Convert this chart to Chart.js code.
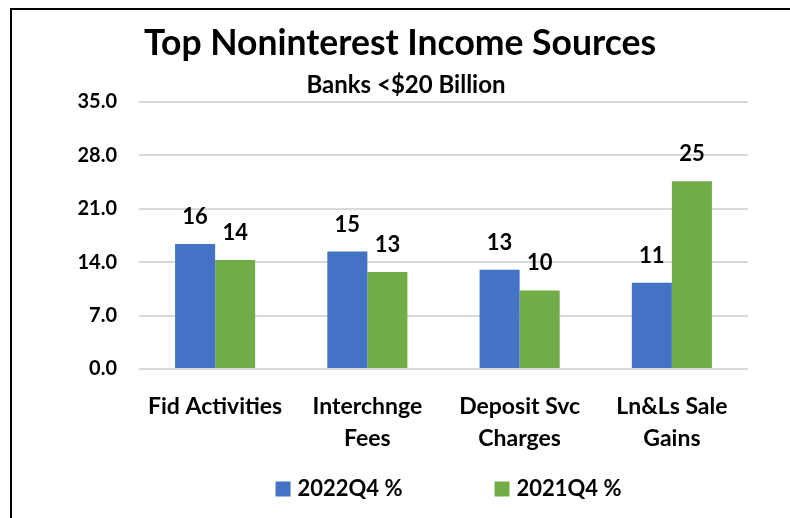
<!DOCTYPE html>
<html>
<head>
<meta charset="utf-8">
<script src="https://cdn.jsdelivr.net/npm/chart.js@4"></script>
<style>
  html, body { margin: 0; padding: 0; background: #fff; overflow: hidden; }
  body { width: 790px; height: 518px; position: relative; }
  #frame { position: absolute; left: 10px; top: 8px; width: 900px; height: 700px; border: 2px solid #000; box-sizing: border-box; }
  #wrap { position: absolute; left: 0; top: 0; width: 790px; height: 518px; }
</style>
</head>
<body>
<div id="frame"></div>
<div id="wrap"><canvas id="income-bar-chart"></canvas></div>
<script>
const categories = ['Fid Activities', ['Interchnge', 'Fees'], ['Deposit Svc', 'Charges'], ['Ln&Ls Sale', 'Gains']];
const q4of2022 = [16.4, 15.4, 13.0, 11.3];
const q4of2021 = [14.3, 12.7, 10.3, 24.6];
const yTicks = [0, 7, 14, 21, 28, 35];

const FONT = 'Lato';
Chart.defaults.font.family = FONT;
Chart.defaults.font.weight = 'bold';
Chart.defaults.color = '#000';

// rounded value above each bar
const barValueLabels = {
    id: 'barValueLabels',
    afterDatasetsDraw(chart) {
        const ctx = chart.ctx;
        ctx.save();
        ctx.font = 'bold 22px ' + FONT;
        ctx.fillStyle = '#000';
        ctx.textAlign = 'center';
        ctx.textBaseline = 'alphabetic';
        chart.data.datasets.forEach((ds, i) => {
            chart.getDatasetMeta(i).data.forEach((bar, j) => {
                ctx.fillText(Math.round(ds.data[j]), bar.x, bar.y - 20);
            });
        });
        ctx.restore();
    }
};

// heading and subheading
const headings = {
    id: 'headings',
    afterDraw(chart) {
        const ctx = chart.ctx;
        ctx.save();
        ctx.fillStyle = '#000';
        ctx.textAlign = 'center';
        ctx.textBaseline = 'alphabetic';
        ctx.font = 'bold 35.5px ' + FONT;
        ctx.fillText('Top Noninterest Income Sources', 400, 55);
        ctx.font = 'bold 24px ' + FONT;
        ctx.fillText('Banks <$20 Billion', 406, 93);
        ctx.restore();
    }
};

// series key under the category labels, wide gap between entries
const seriesKey = {
    id: 'seriesKey',
    afterDraw(chart) {
        const ctx = chart.ctx;
        const box = 15, gap = 7, spacing = 92, midY = 489;
        ctx.save();
        ctx.font = 'bold 22px ' + FONT;
        ctx.textBaseline = 'middle';
        ctx.textAlign = 'left';
        const items = chart.data.datasets.map(ds => ({
            text: ds.label, color: ds.backgroundColor, w: ctx.measureText(ds.label).width
        }));
        const total = items.reduce((s, it) => s + box + gap + it.w, 0) + spacing * (items.length - 1);
        let x = (chart.chartArea.left + chart.chartArea.right) / 2 + 5 - total / 2;
        items.forEach(it => {
            ctx.fillStyle = it.color;
            ctx.fillRect(x, midY - box / 2, box, box);
            ctx.fillStyle = '#000';
            ctx.fillText(it.text, x + box + gap, midY);
            x += box + gap + it.w + spacing;
        });
        ctx.restore();
    }
};

new Chart(document.getElementById('income-bar-chart'), {
    type: 'bar',
    data: {
        labels: categories,
        datasets: [
            { label: '2022Q4 %', data: q4of2022, backgroundColor: '#4472c4' },
            { label: '2021Q4 %', data: q4of2021, backgroundColor: '#70ad47' }
        ]
    },
    options: {
        responsive: true, maintainAspectRatio: false, animation: false,
        layout: { padding: { top: 102, left: 5, right: 42, bottom: 0 } },
        datasets: { bar: { categoryPercentage: 0.526, barPercentage: 1 } },
        plugins: {
            title: { display: false },
            tooltip: { enabled: false },
            legend: { display: false }
        },
        scales: {
            x: {
                grid: { display: false },
                border: { display: false },
                ticks: { padding: 13, maxRotation: 0, autoSkip: false, font: { size: 23, weight: 'bold', lineHeight: 1.42 } },
                afterFit: (scale) => { scale.height = 149; }
            },
            y: {
                min: yTicks[0], max: yTicks[yTicks.length - 1],
                afterBuildTicks: (scale) => { scale.ticks = yTicks.map(v => ({ value: v })); },
                grid: { color: '#d9d9d9', lineWidth: 2, drawTicks: false },
                border: { display: false },
                ticks: { padding: 22, font: { size: 20, weight: 'bold' }, callback: (v) => v.toFixed(1) },
                afterFit: (scale) => { scale.width = 134; }
            }
        }
    },
    plugins: [barValueLabels, headings, seriesKey]
});
</script>
</body>
</html>
